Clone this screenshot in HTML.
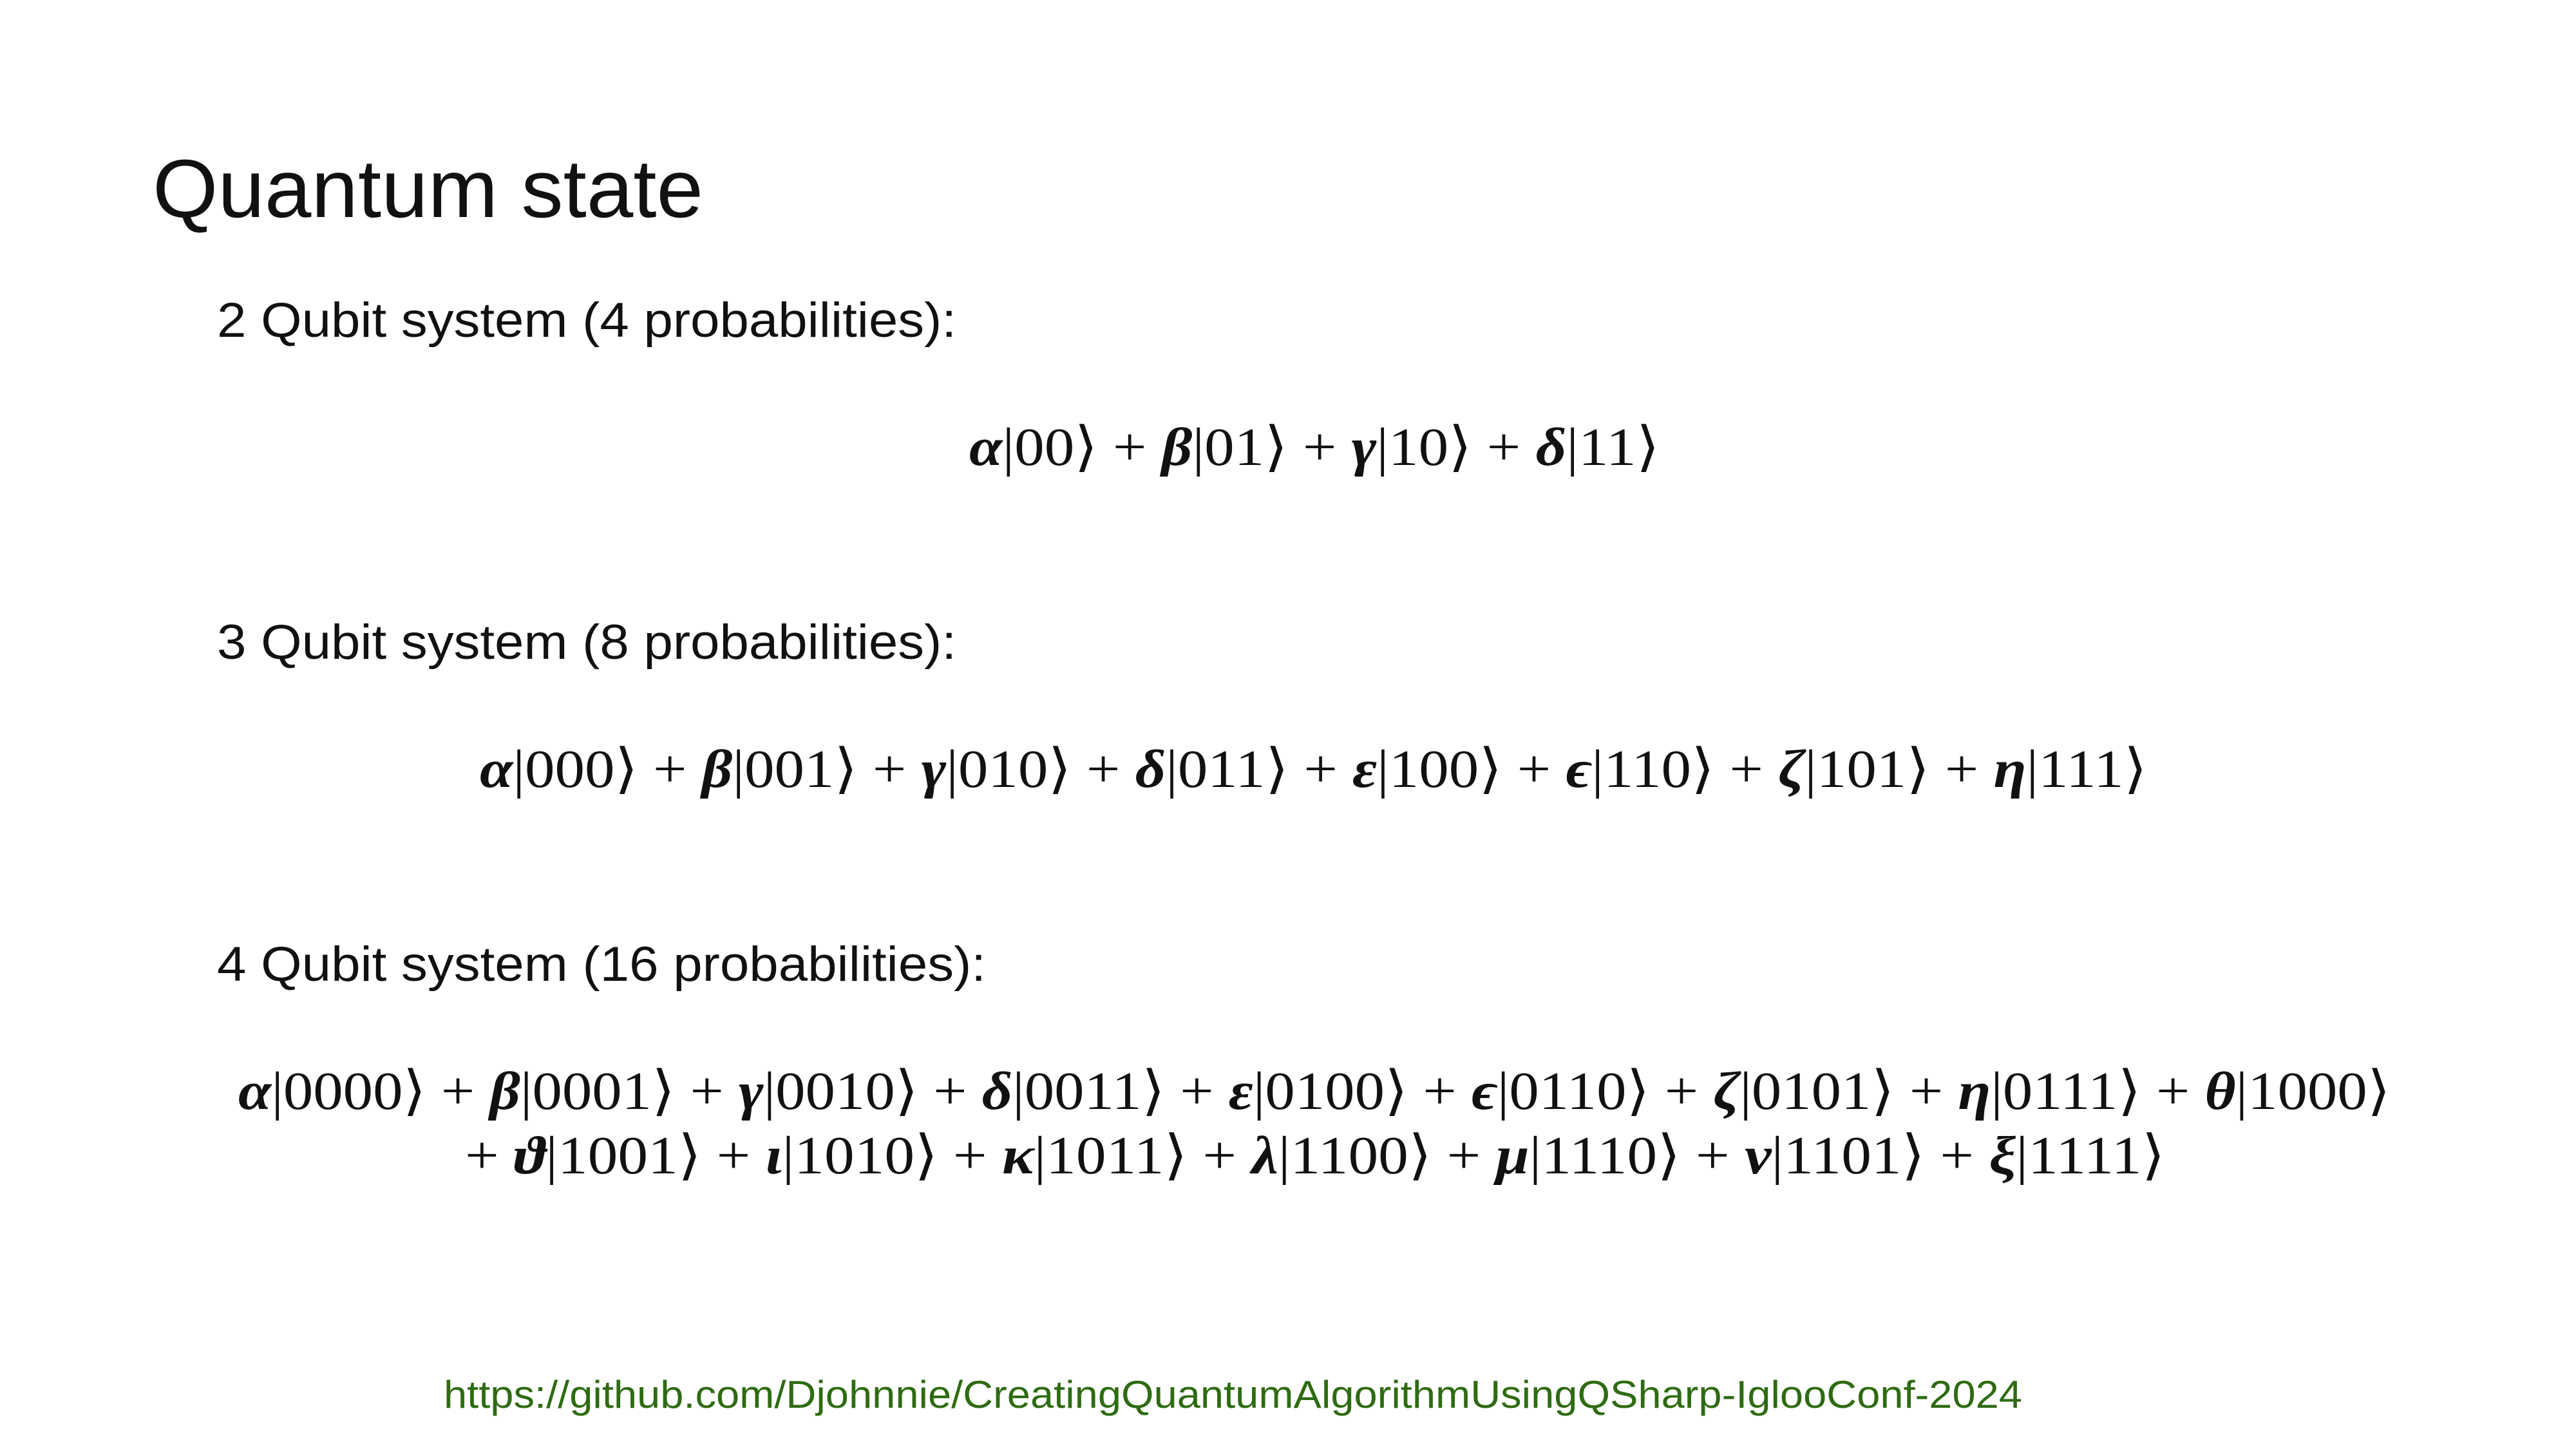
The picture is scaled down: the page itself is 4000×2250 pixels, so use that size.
<!DOCTYPE html>
<html><head><meta charset="utf-8"><style>
html,body{margin:0;padding:0;background:#fff;}
svg{display:block;}
.s{font-family:"Liberation Sans",sans-serif;fill:#111;}
.m{font-family:"Liberation Serif","DejaVu Serif",serif;fill:#111;}
.g{font-weight:bold;font-style:italic;}
</style></head><body>
<svg width="4000" height="2250" viewBox="0 0 4000 2250" xmlns="http://www.w3.org/2000/svg">
<rect width="4000" height="2250" fill="#fff"/>
<text class="s" x="237" y="337" font-size="128" textLength="855" lengthAdjust="spacingAndGlyphs">Quantum state</text>
<text class="s" x="337" y="523" font-size="76" textLength="1148" lengthAdjust="spacingAndGlyphs">2 Qubit system (4 probabilities):</text>
<text class="m" x="1505" y="722" font-size="84" textLength="1072" lengthAdjust="spacingAndGlyphs"><tspan class="g">α</tspan>|00⟩ + <tspan class="g">β</tspan>|01⟩ + <tspan class="g">γ</tspan>|10⟩ + <tspan class="g">δ</tspan>|11⟩</text>
<text class="s" x="337" y="1023" font-size="76" textLength="1148" lengthAdjust="spacingAndGlyphs">3 Qubit system (8 probabilities):</text>
<text class="m" x="745" y="1222" font-size="84" textLength="2589" lengthAdjust="spacingAndGlyphs"><tspan class="g">α</tspan>|000⟩ + <tspan class="g">β</tspan>|001⟩ + <tspan class="g">γ</tspan>|010⟩ + <tspan class="g">δ</tspan>|011⟩ + <tspan class="g">ε</tspan>|100⟩ + <tspan class="g">ϵ</tspan>|110⟩ + <tspan class="g">ζ</tspan>|101⟩ + <tspan class="g">η</tspan>|111⟩</text>
<text class="s" x="337" y="1523" font-size="76" textLength="1194" lengthAdjust="spacingAndGlyphs">4 Qubit system (16 probabilities):</text>
<text class="m" x="370" y="1722" font-size="84" textLength="3342" lengthAdjust="spacingAndGlyphs"><tspan class="g">α</tspan>|0000⟩ + <tspan class="g">β</tspan>|0001⟩ + <tspan class="g">γ</tspan>|0010⟩ + <tspan class="g">δ</tspan>|0011⟩ + <tspan class="g">ε</tspan>|0100⟩ + <tspan class="g">ϵ</tspan>|0110⟩ + <tspan class="g">ζ</tspan>|0101⟩ + <tspan class="g">η</tspan>|0111⟩ + <tspan class="g">θ</tspan>|1000⟩</text>
<text class="m" x="722" y="1822" font-size="84" textLength="2640" lengthAdjust="spacingAndGlyphs">+ <tspan class="g">ϑ</tspan>|1001⟩ + <tspan class="g">ι</tspan>|1010⟩ + <tspan class="g">κ</tspan>|1011⟩ + <tspan class="g">λ</tspan>|1100⟩ + <tspan class="g">μ</tspan>|1110⟩ + <tspan class="g">ν</tspan>|1101⟩ + <tspan class="g">ξ</tspan>|1111⟩</text>
<text class="s" x="689" y="2186" font-size="60" style="fill:#2e6b12" textLength="2451" lengthAdjust="spacingAndGlyphs">https://github.com/Djohnnie/CreatingQuantumAlgorithmUsingQSharp-IglooConf-2024</text>
</svg>
</body></html>
